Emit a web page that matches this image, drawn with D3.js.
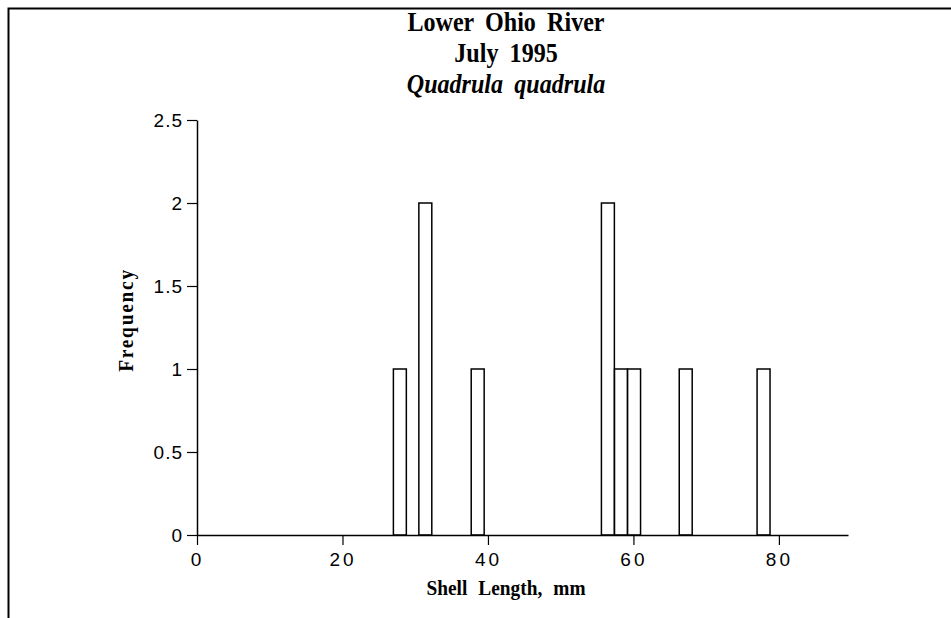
<!DOCTYPE html>
<html>
<head>
<meta charset="utf-8">
<script src="https://cdn.jsdelivr.net/npm/d3@7"></script>
<style>
  body { margin: 0; background: #fff; }
  svg { display: block; }
</style>
</head>
<body>
<div id="chart"></div>
<script>
// histogram bins (left edge in mm) and counts
var binStart = [27.0, 30.5, 37.7, 55.6, 57.4, 59.2, 66.3, 77.0];
var binWidth = 1.78;
var counts = [1, 2, 1, 2, 1, 1, 1, 1];
var xTicks = [0, 20, 40, 60, 80];
var yTicks = [0, 0.5, 1, 1.5, 2, 2.5];
var titleLines = ["Lower Ohio River", "July 1995", "Quadrula quadrula"];

var W = 951, H = 618;
var margin = {top: 120, right: 103, bottom: 83, left: 197},
    width = W - margin.left - margin.right,
    height = H - margin.top - margin.bottom;

var svg = d3.select("#chart").append("svg")
    .attr("width", W)
    .attr("height", H);

// page frame (left + top only, like the scan)
svg.append("path")
    .attr("d", "M8.5," + H + "V8.5H" + W)
    .attr("fill", "none")
    .attr("stroke", "#000")
    .attr("stroke-width", 2);

var serif = "'Liberation Serif', 'Times New Roman', serif";
var sans = "'Liberation Sans', Arial, sans-serif";

// titles - narrow bold serif, so squeeze horizontally
svg.selectAll("g.title")
    .data(titleLines)
    .enter().append("g")
    .attr("class", "title")
    .attr("transform", (d, i) => "translate(506," + (31 + i * 31) + ") scale(0.86,1)")
    .append("text")
    .attr("text-anchor", "middle")
    .style("font-family", serif)
    .style("font-weight", "bold")
    .style("font-style", (d, i) => i == 2 ? "italic" : "normal")
    .style("font-size", "28px")
    .style("word-spacing", "6px")
    .text(d => d);

var g = svg.append("g")
    .attr("transform", "translate(" + margin.left + "," + margin.top + ")");

var x = d3.scaleLinear()
    .domain([0, 89.5])
    .range([0, width]);

var y = d3.scaleLinear()
    .domain([0, 2.5])
    .range([height, 0]);

var bars = binStart.map((s, i) => ({start: s, count: counts[i]}));

g.selectAll("rect")
    .data(bars)
    .enter().append("rect")
    .attr("x", d => x(d.start))
    .attr("y", d => y(d.count))
    .attr("width", d => x(d.start + binWidth) - x(d.start))
    .attr("height", d => y(0) - y(d.count))
    .attr("fill", "#fff")
    .attr("stroke", "#000")
    .attr("stroke-width", 1.5);

var xAxis = g.append("g")
    .attr("transform", "translate(0," + height + ")")
    .call(d3.axisBottom(x).tickValues(xTicks).tickSize(10).tickSizeOuter(0).tickPadding(8));

var yAxis = g.append("g")
    .call(d3.axisLeft(y).tickValues(yTicks).tickFormat(d3.format("~g"))
      .tickSize(10).tickSizeOuter(0).tickPadding(4));

[xAxis, yAxis].forEach(a => {
  a.select(".domain").attr("stroke-width", 1.5);
  a.selectAll(".tick line").attr("stroke-width", 1.2);
  a.selectAll("text")
    .style("font-family", sans)
    .style("font-size", "19px")
    .attr("fill", "#000");
});
xAxis.selectAll("text").style("letter-spacing", "3px");
yAxis.selectAll("text").style("letter-spacing", "1px");

// axis titles
svg.append("g")
    .attr("transform", "translate(506,595) scale(0.88,1)")
    .append("text")
    .attr("text-anchor", "middle")
    .style("font-family", serif)
    .style("font-weight", "bold")
    .style("font-size", "22px")
    .style("word-spacing", "7px")
    .text("Shell Length, mm");

svg.append("g")
    .attr("transform", "translate(133,320) rotate(-90) scale(0.88,1)")
    .append("text")
    .attr("text-anchor", "middle")
    .style("font-family", serif)
    .style("font-weight", "bold")
    .style("font-size", "22px")
    .style("letter-spacing", "2px")
    .text("Frequency");
</script>
</body>
</html>
